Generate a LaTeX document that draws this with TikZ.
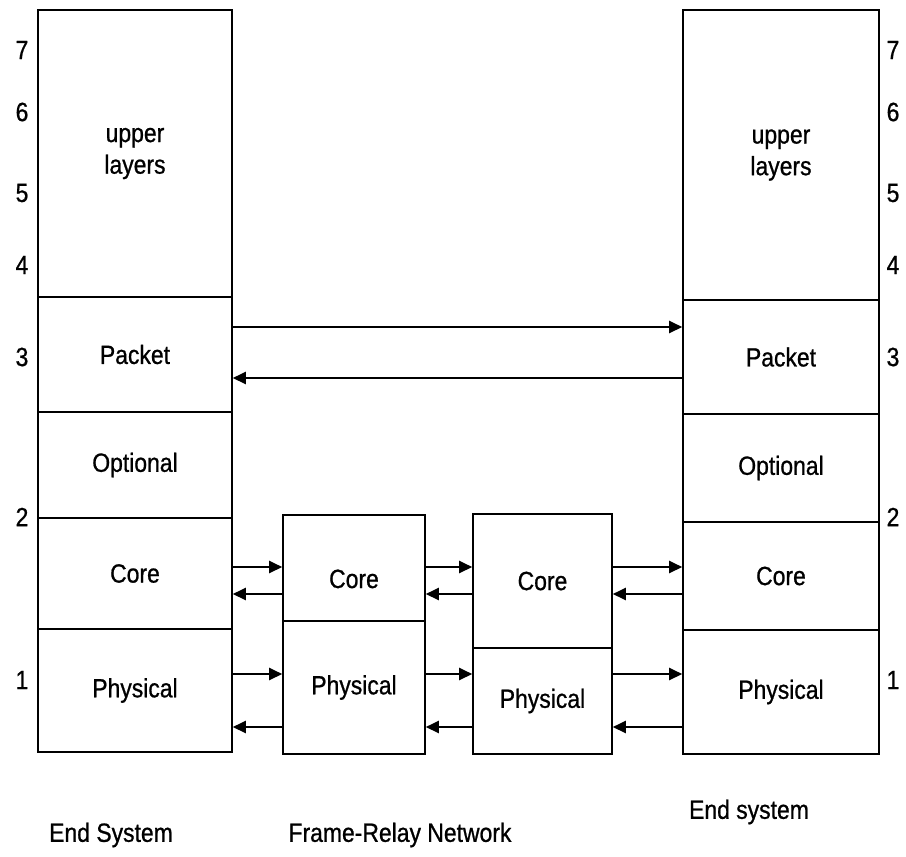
\documentclass[tikz,border=0pt]{standalone}
\usepackage{fontspec}
\setmainfont[FakeStretch=0.87,FakeBold=0.8]{Liberation Sans}
\usetikzlibrary{arrows.meta}

\begin{document}
\begin{tikzpicture}[
  x=0.02cm, y=-0.02cm,
  font=\fontsize{15}{18}\selectfont,
  layer/.style={draw, line width=0.9pt, inner sep=0pt, align=center},
  msg/.style={-{Triangle[length=2.6mm,width=2.4mm]}, line width=1.2pt},
  num/.style={font=\fontsize{15}{18}\selectfont}
]
\useasboundingbox (0,0) rectangle (906,856);
% left end system
\node[layer, minimum width=3.88cm, minimum height=5.74cm] (lup) at (135,153.5) {upper\\layers};
\node[layer, minimum width=3.88cm, minimum height=2.30cm] (lpk) at (135,354.5) {Packet};
\node[layer, minimum width=3.88cm, minimum height=2.12cm] (lop) at (135,465) {Optional};
\node[layer, minimum width=3.88cm, minimum height=2.22cm] (lco) at (135,573.5) {Core};
\node[layer, minimum width=3.88cm, minimum height=2.46cm] (lph) at (135,690.5) {Physical};
% right end system
\node[layer, minimum width=3.92cm, minimum height=5.80cm] (rup) at (781,155) {upper\\layers};
\node[layer, minimum width=3.92cm, minimum height=2.28cm] (rpk) at (781,357) {Packet};
\node[layer, minimum width=3.92cm, minimum height=2.16cm] (rop) at (781,468) {Optional};
\node[layer, minimum width=3.92cm, minimum height=2.16cm] (rco) at (781,576) {Core};
\node[layer, minimum width=3.92cm, minimum height=2.48cm] (rph) at (781,692) {Physical};
% frame-relay switches
\node[layer, minimum width=2.84cm, minimum height=2.12cm] (aco) at (354,568) {\raisebox{-0.4cm}[0pt][0pt]{Core}};
\node[layer, minimum width=2.84cm, minimum height=2.66cm] (aph) at (354,687.5) {Physical};
\node[layer, minimum width=2.78cm, minimum height=2.68cm] (bco) at (542.5,581) {Core};
\node[layer, minimum width=2.78cm, minimum height=2.12cm] (bph) at (542.5,701) {Physical};
% layer numbers
\foreach \n/\y in {7/50, 6/112, 5/193, 4/265, 3/357, 2/517, 1/680}{
  \node[num] (ln\n) at (22,\y) {\n};
  \node[num] (rn\n) at (893,\y) {\n};
}
% packet level
\draw[msg] (lpk.east |- 0,327) -- (rpk.west |- 0,327);
\draw[msg] (rpk.west |- 0,378) -- (lpk.east |- 0,378);
% core level
\draw[msg] (lco.east |- 0,567) -- (aco.west |- 0,567);
\draw[msg] (aco.west |- 0,594) -- (lco.east |- 0,594);
\draw[msg] (aco.east |- 0,567) -- (bco.west |- 0,567);
\draw[msg] (bco.west |- 0,594) -- (aco.east |- 0,594);
\draw[msg] (bco.east |- 0,567) -- (rco.west |- 0,567);
\draw[msg] (rco.west |- 0,594) -- (bco.east |- 0,594);
% physical level
\draw[msg] (lph.east |- 0,674) -- (aph.west |- 0,674);
\draw[msg] (aph.west |- 0,727) -- (lph.east |- 0,727);
\draw[msg] (aph.east |- 0,674) -- (bph.west |- 0,674);
\draw[msg] (bph.west |- 0,727) -- (aph.east |- 0,727);
\draw[msg] (bph.east |- 0,674) -- (rph.west |- 0,674);
\draw[msg] (rph.west |- 0,727) -- (bph.east |- 0,727);
% captions
\node (lcap) at (111,835) {End System};
\node (ncap) at (400,835) {Frame-Relay Network};
\node (rcap) at (749,812) {End system};
\end{tikzpicture}
\end{document}
